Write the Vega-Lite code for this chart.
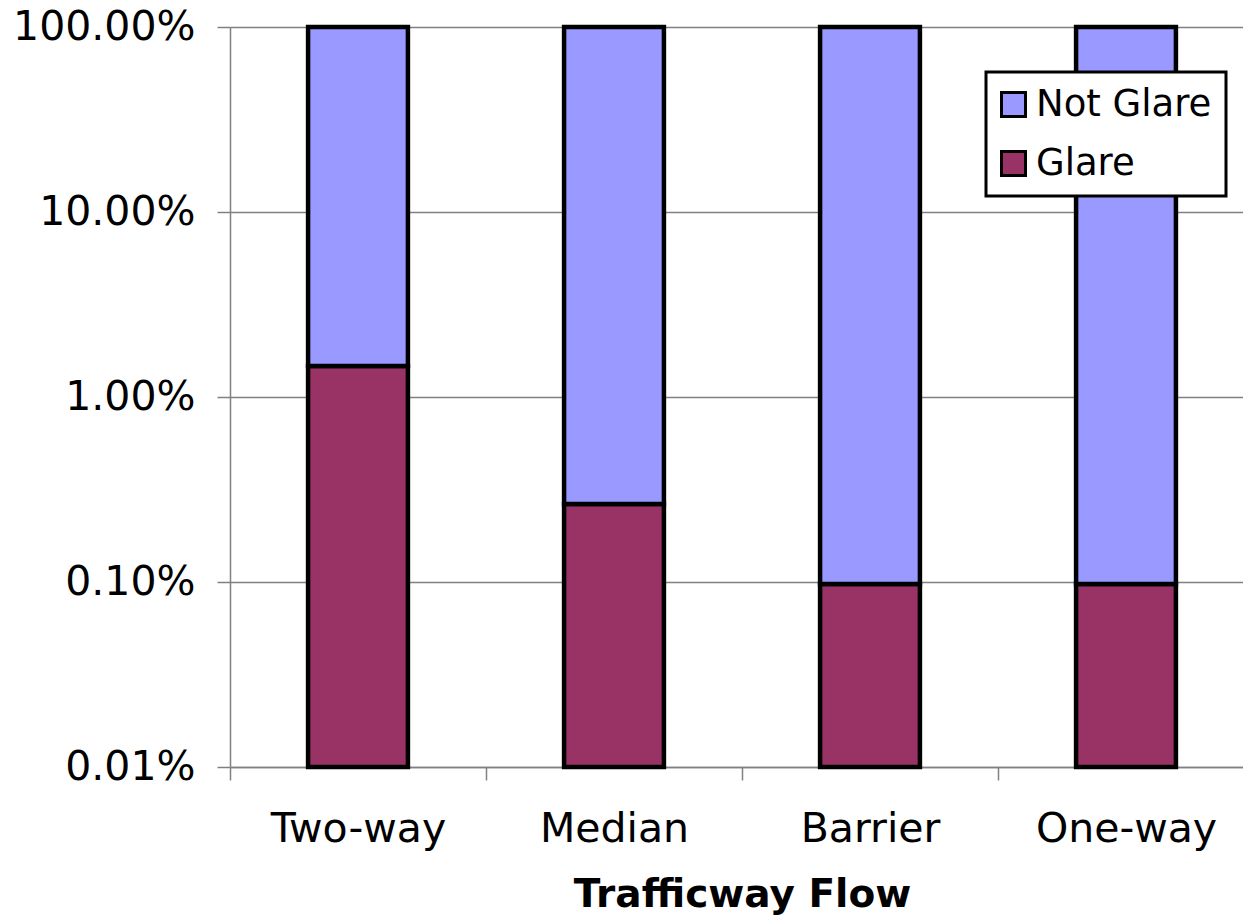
{
  "$schema": "https://vega.github.io/schema/vega-lite/v6.json",
  "autosize": {"type": "none"},
  "width": 1013,
  "height": 740,
  "padding": {"left": 230, "top": 27, "right": 0, "bottom": 149},
  "background": "white",
  "config": {
    "font": "DejaVu Sans",
    "view": {"stroke": null},
    "axis": {"domainColor": "#808080", "tickColor": "#808080", "gridColor": "#808080", "domainWidth": 1.5, "tickWidth": 1.5, "gridWidth": 1.5, "labelLimit": 500}
  },
  "data": {
    "values": [
      {"flow": "Two-way", "series": "Glare", "from": 0.0001, "to": 0.0147},
      {"flow": "Two-way", "series": "Not Glare", "from": 0.0147, "to": 1},
      {"flow": "Median", "series": "Glare", "from": 0.0001, "to": 0.00264},
      {"flow": "Median", "series": "Not Glare", "from": 0.00264, "to": 1},
      {"flow": "Barrier", "series": "Glare", "from": 0.0001, "to": 0.000975},
      {"flow": "Barrier", "series": "Not Glare", "from": 0.000975, "to": 1},
      {"flow": "One-way", "series": "Glare", "from": 0.0001, "to": 0.000975},
      {"flow": "One-way", "series": "Not Glare", "from": 0.000975, "to": 1}
    ]
  },
  "mark": {"type": "bar", "stroke": "black", "strokeWidth": 4.5, "width": {"band": 0.39}},
  "encoding": {
    "x": {
      "field": "flow",
      "type": "nominal",
      "sort": ["Two-way", "Median", "Barrier", "One-way"],
      "scale": {"range": [0, 1024], "paddingInner": 0, "paddingOuter": 0},
      "axis": {
        "title": "Trafficway Flow",
        "titleFontSize": 39,
        "titleFontWeight": "bold",
        "titleColor": "black",
        "titlePadding": 26,
        "labelAngle": 0,
        "labelFontSize": 41,
        "labelColor": "black",
        "labelPadding": 29,
        "labelLimit": 500,
        "tickSize": 13,
        "tickBand": "extent",
        "grid": false
      }
    },
    "y": {
      "field": "from",
      "type": "quantitative",
      "scale": {"type": "log", "domain": [0.0001, 1], "nice": false},
      "axis": {
        "title": null,
        "format": ".2%",
        "values": [0.0001, 0.001, 0.01, 0.1, 1],
        "labelFontSize": 41,
        "labelColor": "black",
        "labelPadding": 22,
        "labelLimit": 500,
        "tickSize": 13,
        "grid": true
      }
    },
    "y2": {"field": "to"},
    "color": {
      "field": "series",
      "type": "nominal",
      "scale": {"domain": ["Not Glare", "Glare"], "range": ["#9999FF", "#993366"]},
      "legend": {
        "title": null,
        "orient": "none",
        "legendX": 756,
        "legendY": 45,
        "direction": "vertical",
        "fillColor": "white",
        "strokeColor": "black",
        "padding": 14,
        "symbolType": "square",
        "symbolSize": 576,
        "symbolOffset": -5,
        "symbolStrokeColor": "black",
        "symbolStrokeWidth": 3,
        "labelFontSize": 37,
        "labelColor": "black",
        "labelOffset": 4,
        "rowPadding": 21,
        "labelLimit": 400,
        "encode": {"legend": {"update": {"strokeWidth": {"value": 3}}}}
      }
    }
  }
}
